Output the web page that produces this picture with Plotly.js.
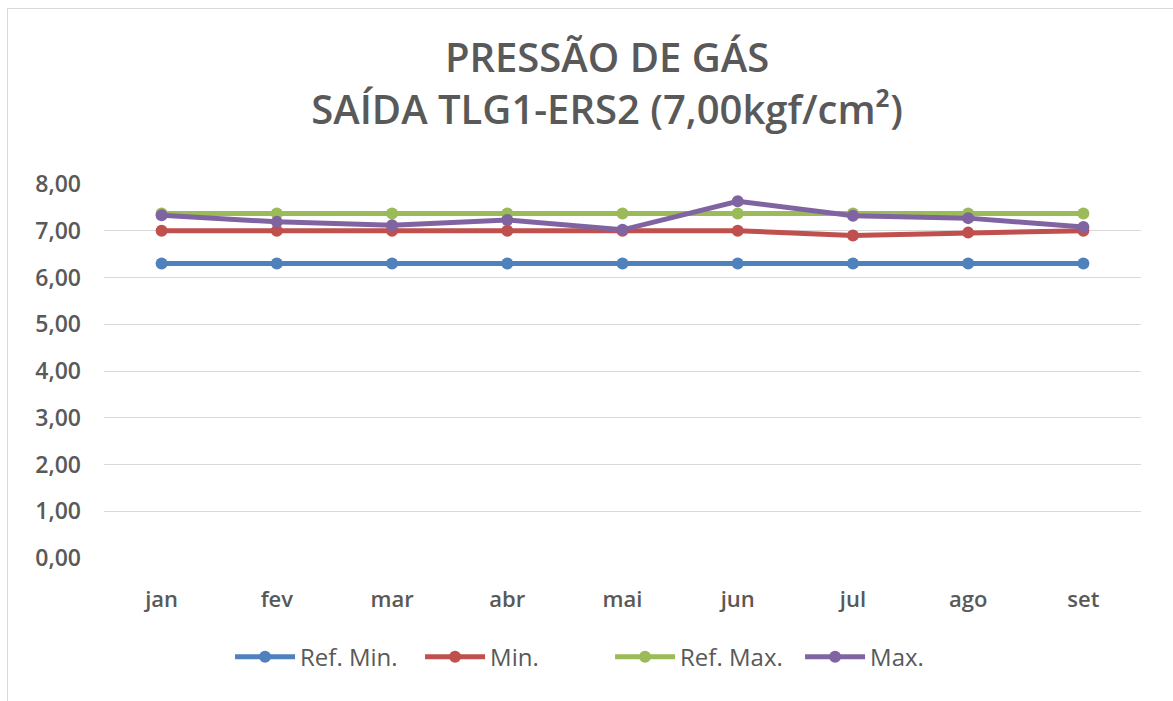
<!DOCTYPE html>
<html><head><meta charset="utf-8">
<script src="https://cdn.plot.ly/plotly-3.0.1.min.js"></script>
<style>
html,body{margin:0;padding:0;background:#fff;}
#chart{width:1173px;height:701px;}
#frame{position:absolute;left:7px;top:8px;width:1166px;height:693px;border-top:1px solid #d9d9d9;border-left:1px solid #d9d9d9;box-sizing:border-box;pointer-events:none;}
</style></head>
<body>
<div id="chart"></div>
<div id="frame"></div>
<script>
const months = ["jan","fev","mar","abr","mai","jun","jul","ago","set"];
const refMin = [6.30,6.30,6.30,6.30,6.30,6.30,6.30,6.30,6.30];
const minVals = [7.00,7.00,7.00,7.00,7.00,7.00,6.90,6.96,7.00];
const refMax = [7.37,7.37,7.37,7.37,7.37,7.37,7.37,7.37,7.37];
const maxVals = [7.33,7.19,7.12,7.23,7.02,7.63,7.32,7.27,7.08];
const seriesNames = ["Ref. Min.","Min.","Ref. Max.","Max."];
const colors = ["#4F81BD","#C0504D","#9BBB59","#8064A2"];
const yTicks = [0,1,2,3,4,5,6,7,8];

const all = [refMin,minVals,refMax,maxVals];
const traces = all.map((vals,i)=>({
  x: months, y: vals, name: seriesNames[i], type:"scatter", mode:"lines+markers",
  line:{color:colors[i], width:5},
  marker:{color:colors[i], size:12}
}));

const font = "Open Sans, Liberation Sans, sans-serif";
const layout = {
  width:1173, height:701,
  margin:{l:104, r:32, t:184, b:143},
  paper_bgcolor:"#fff", plot_bgcolor:"#fff",
  separators:", ",
  title:{text:"PRESSÃO DE GÁS<br>SAÍDA TLG1-ERS2 (7,00kgf/cm²)", x:0.5175, xanchor:"center", y:0.898, yanchor:"middle",
    font:{family:font, size:40, color:"#595959", weight:600}},
  xaxis:{type:"category", range:[-0.5,8.5], showgrid:false, zeroline:false, showline:false, ticks:"",
    tickfont:{family:font, size:22, color:"#595959", weight:600}, ticklabelstandoff:26},
  yaxis:{range:[0,8], tickvals:yTicks, tickformat:".2f", showgrid:true, gridcolor:"#d9d9d9", gridwidth:1,
    zeroline:false, showline:false, ticks:"", tickfont:{family:font, size:23, color:"#595959", weight:600}, ticklabelstandoff:22},
  legend:{orientation:"h", x:0.488, xanchor:"center", y:-0.265, yanchor:"middle",
    font:{family:font, size:24, color:"#595959"}, itemwidth:60, tracegroupgap:0,
    entrywidth:115, entrywidthmode:"pixels"},
  showlegend:true
};
Plotly.newPlot("chart", traces, layout, {displayModeBar:false, staticPlot:true});
</script>
</body></html>
